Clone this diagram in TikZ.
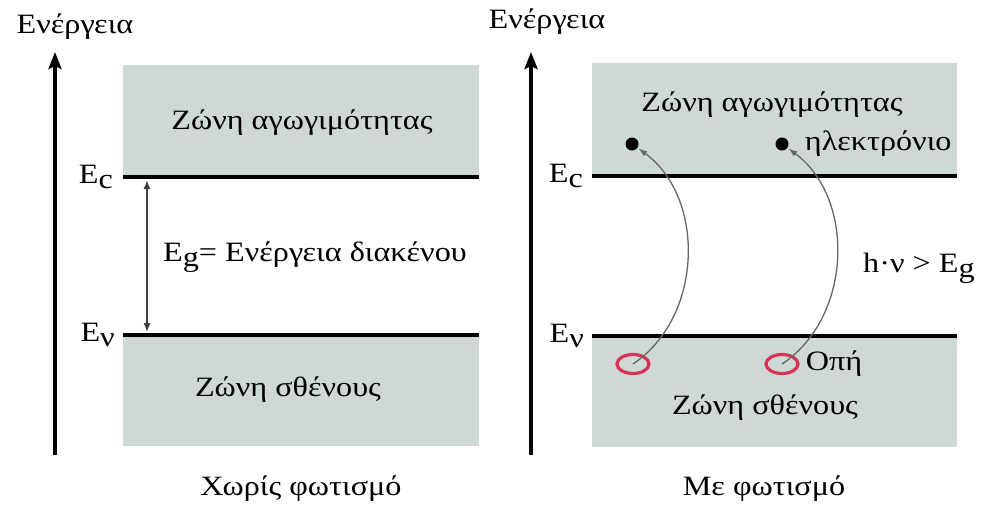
\documentclass[tikz,border=0pt]{standalone}
\usepackage{fontspec}
\setmainfont{Liberation Serif}[FakeStretch=1.15]
\usetikzlibrary{arrows.meta, shapes.geometric, positioning}

\definecolor{bandgrey}{RGB}{206,217,215}
\definecolor{holered}{RGB}{214,52,82}
\newcommand{\lowsub}[1]{\raisebox{-0.4ex}{#1}}

\begin{document}
\begin{tikzpicture}[
    x=1pt, y=-1pt, % pixel-like units, y pointing down
    >=Latex, % Set default arrow tip style
    every node/.style={font=\fontsize{28}{32}\selectfont, inner sep=0pt}, % Style for all texts
    axis/.style={-{Stealth[length=17pt, width=13pt, inset=3pt]}, line width=3.5pt}, % Style for energy axes
    band/.style={fill=bandgrey}, % Style for the bands
    level/.style={line width=3.5pt}, % Style for band edges
    gap/.style={{Latex[length=9pt, width=7pt]}-{Latex[length=9pt, width=7pt]}, line width=1.3pt, black!75}, % Style for band gap arrow
    jump/.style={-{Latex[length=9pt, width=6pt]}, line width=1.3pt, black!60, shorten >=1pt}, % Style for excitation arrows
    hole/.style={ellipse, draw=holered, line width=3.2pt, minimum width=32pt, minimum height=19pt}, % Style for holes
    electron/.style={circle, fill=black, minimum size=13pt} % Style for electrons
]
    \useasboundingbox (0,0) rectangle (981,504);

    % --- Left Plot (no light) ---
    \begin{scope}
        % Bands
        \fill[band] (123,65) rectangle (479,177);
        \fill[band] (123,335) rectangle (479,446);

        % Axis
        \draw[axis] (55,455) -- (55,52);
        \node (enL) at (75,27) {Ενέργεια};

        % Band edges
        \coordinate (ecL) at (123,177);
        \coordinate (ecLend) at (479,177);
        \coordinate (evL) at (123,335);
        \coordinate (evLend) at (479,335);
        \draw[level] (ecL) -- (ecLend);
        \draw[level] (evL) -- (evLend);
        \node[left=10pt of ecL] (ecLlbl) {E\lowsub{c}};
        \node[left=8pt of evL] (evLlbl) {E\lowsub{ν}};

        % Band gap
        \coordinate (gapTop) at (147,180);
        \coordinate (gapBot) at (147,332);
        \draw[gap] (gapTop) -- (gapBot);
        \node[anchor=west] (egL) at (163,257) {E\lowsub{g}= Ενέργεια διακένου};

        % Band names
        \node (cbL) at (302,123) {Ζώνη αγωγιμότητας};
        \node (vbL) at (288,390) {Ζώνη σθένους};
        \node (capL) at (301,489) {Χωρίς φωτισμό};
    \end{scope}

    % --- Right Plot (with light) ---
    \begin{scope}[shift={(469,0)}] % Shift the second plot to the right
        % Bands
        \fill[band] (123,63) rectangle (488,176);
        \fill[band] (123,336) rectangle (488,447);

        % Axis
        \draw[axis] (62,455) -- (62,52);
        \node (enR) at (78,22) {Ενέργεια};

        % Band edges
        \coordinate (ecR) at (123,176);
        \coordinate (ecRend) at (488,176);
        \coordinate (evR) at (123,336);
        \coordinate (evRend) at (488,336);
        \draw[level] (ecR) -- (ecRend);
        \draw[level] (evR) -- (evRend);
        \node[left=9pt of ecR] (ecRlbl) {E\lowsub{c}};
        \node[left=8pt of evR] (evRlbl) {E\lowsub{ν}};

        % Electrons and holes
        \node[electron] (e1) at (163,144) {};
        \node[electron] (e2) at (313,144) {};
        \node[right=16pt of e2] (elR) {ηλεκτρόνιο};
        \node[hole] (h1) at (164,364) {};
        \node[hole] (h2) at (313,364) {};
        \node[right=6pt of h2] (opR) {Οπή};

        % Excitation
        \draw[jump] (h1.center) to[bend right=55] (e1);
        \draw[jump] (h2.center) to[bend right=55] (e2);
        \node[anchor=west] (hvR) at (394,268) {h·ν > E\lowsub{g}};

        % Band names
        \node (cbR) at (303,105) {Ζώνη αγωγιμότητας};
        \node (vbR) at (296,408) {Ζώνη σθένους};
        \node (capR) at (295,489) {Με φωτισμό};
    \end{scope}

\end{tikzpicture}
\end{document}
